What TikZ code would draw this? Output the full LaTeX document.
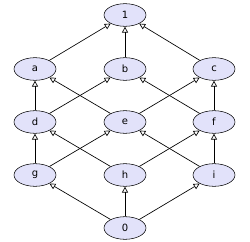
\documentclass[tikz,border=0pt]{standalone}
\usepackage{fontspec}
\setmainfont{DejaVu Sans}
\usetikzlibrary{arrows.meta,shapes.geometric}

\tikzset{
  elem/.style={ellipse, draw, fill={rgb,255:red,226;green,226;blue,250}, minimum width=31.5pt, minimum height=17pt, inner sep=0pt, font=\fontsize{7.5}{9}\selectfont},
  cover/.style={-{Triangle[open,length=4.5pt,width=4.5pt]}, line width=0.5pt}
}

\begin{document}
\begin{tikzpicture}[x=0.75pt,y=0.75pt,yscale=-1,xscale=1]
\useasboundingbox (0,0) rectangle (250,242);

% Top
\node [elem] (top) at (125,15) {1};
% Atoms row
\node [elem] (a) at (35,69) {a};
\node [elem] (b) at (125,69) {b};
\node [elem] (c) at (214,69) {c};
% Middle row
\node [elem] (d) at (35,122) {d};
\node [elem] (e) at (125,122) {e};
\node [elem] (f) at (214,122) {f};
% Lower row
\node [elem] (g) at (35,175) {g};
\node [elem] (h) at (125,175) {h};
\node [elem] (i) at (214,175) {i};
% Bottom
\node [elem] (bot) at (125,228) {0};

% Covering relations
\draw [cover] (a) -- (top);
\draw [cover] (b) -- (top);
\draw [cover] (c) -- (top);
\draw [cover] (d) -- (a);
\draw [cover] (d) -- (b);
\draw [cover] (e) -- (a);
\draw [cover] (e) -- (c);
\draw [cover] (f) -- (b);
\draw [cover] (f) -- (c);
\draw [cover] (g) -- (d);
\draw [cover] (g) -- (e);
\draw [cover] (h) -- (d);
\draw [cover] (h) -- (f);
\draw [cover] (i) -- (e);
\draw [cover] (i) -- (f);
\draw [cover] (bot) -- (g);
\draw [cover] (bot) -- (h);
\draw [cover] (bot) -- (i);

\end{tikzpicture}
\end{document}
